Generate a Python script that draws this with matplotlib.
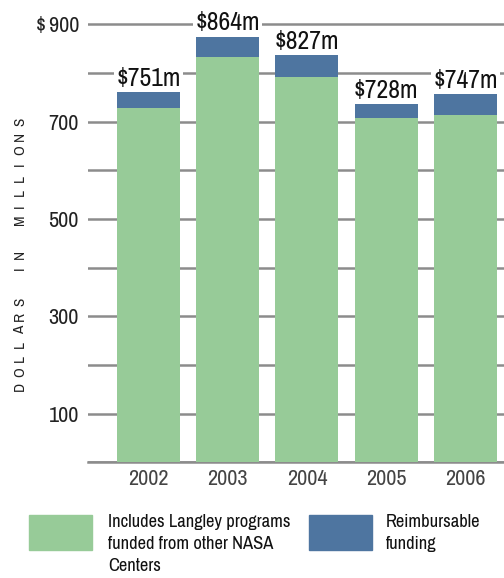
import matplotlib
matplotlib.use('Agg')
import matplotlib.pyplot as plt
from matplotlib.patches import Rectangle
from matplotlib import font_manager
import numpy as np

# the original uses a condensed face; take one if the box has it
names = sorted({f.name for f in font_manager.fontManager.ttflist})
narrow = [n for n in names if 'Narrow' in n or 'Condensed' in n]
plt.rcParams['font.family'] = narrow[:1] + ['Liberation Sans', 'DejaVu Sans']

# data
years = ['2002', '2003', '2004', '2005', '2006']
langley = [729, 832, 791, 708, 713]        # green part
reimbursable = [31, 43, 45, 29, 43]         # blue part on top
totals_label = ['$751m', '$864m', '$827m', '$728m', '$747m']
ytick_vals = [0, 100, 200, 300, 400, 500, 600, 700, 800, 900]
ytick_text = ['', '100', '', '300', '', '500', '', '700', '', '$\u2009900']

green = '#97cb98'
blue = '#4e75a0'
gridc = '#8c8c8c'

fig = plt.figure(figsize=(5.04, 5.78), dpi=100)
ax = fig.add_axes([0.1746, 0.2, 0.8254, 0.8])

x = np.arange(len(years))
w = 0.795
ax.bar(x, langley, width=w, color=green, zorder=3)
ax.bar(x, reimbursable, width=w, bottom=langley, color=blue, zorder=3)

for xi, g, r, lab in zip(x, langley, reimbursable, totals_label):
    ax.annotate(lab, (xi, g + r), xytext=(0, 1.5), textcoords='offset points',
                ha='center', va='bottom', fontsize=18.5, color='#111111', zorder=5,
                bbox=dict(boxstyle='square,pad=0.08', fc='white', ec='none'),
                annotation_clip=False)

ax.set_xlim(-0.763, 4.486)
ax.set_ylim(0, 950)
ax.set_yticks(ytick_vals)
ax.set_yticklabels(ytick_text, fontsize=16, color='#222222')
ax.set_xticks(x)
ax.set_xticklabels(years, fontsize=16, color='#444444')
ax.tick_params(axis='both', length=0)
ax.tick_params(axis='y', pad=6.5)
ax.tick_params(axis='x', pad=5)
ax.yaxis.grid(True, color=gridc, linewidth=1.8, zorder=0)
for s in ['top', 'right', 'left']:
    ax.spines[s].set_visible(False)
ax.spines['bottom'].set_color(gridc)
ax.spines['bottom'].set_linewidth(1.8)

# spaced-out axis title, one letter at a time from the bottom up
ylab = 'DOLLARS IN MILLIONS'
ypix = 386.0
for ch in ylab:
    if ch == ' ':
        ypix -= 20
        continue
    fig.text(20 / 504, 1 - ypix / 578, ch, rotation=90, ha='center', va='center',
             fontsize=11, color='#222222')
    ypix -= 14

# legend drawn by hand
fig.patches.append(Rectangle((29 / 504, 1 - 550 / 578), 63 / 504, 35 / 578,
                             transform=fig.transFigure, color=green))
fig.patches.append(Rectangle((309 / 504, 1 - 550 / 578), 63 / 504, 35 / 578,
                             transform=fig.transFigure, color=blue))
fig.text(108 / 504, 1 - 514 / 578,
         'Includes Langley programs\nfunded from other NASA\nCenters',
         ha='left', va='top', fontsize=13.3, color='#111111', linespacing=1.45)
fig.text(386 / 504, 1 - 514 / 578, 'Reimbursable\nfunding',
         ha='left', va='top', fontsize=13.3, color='#111111', linespacing=1.45)

fig.savefig('out.png', dpi=100)
